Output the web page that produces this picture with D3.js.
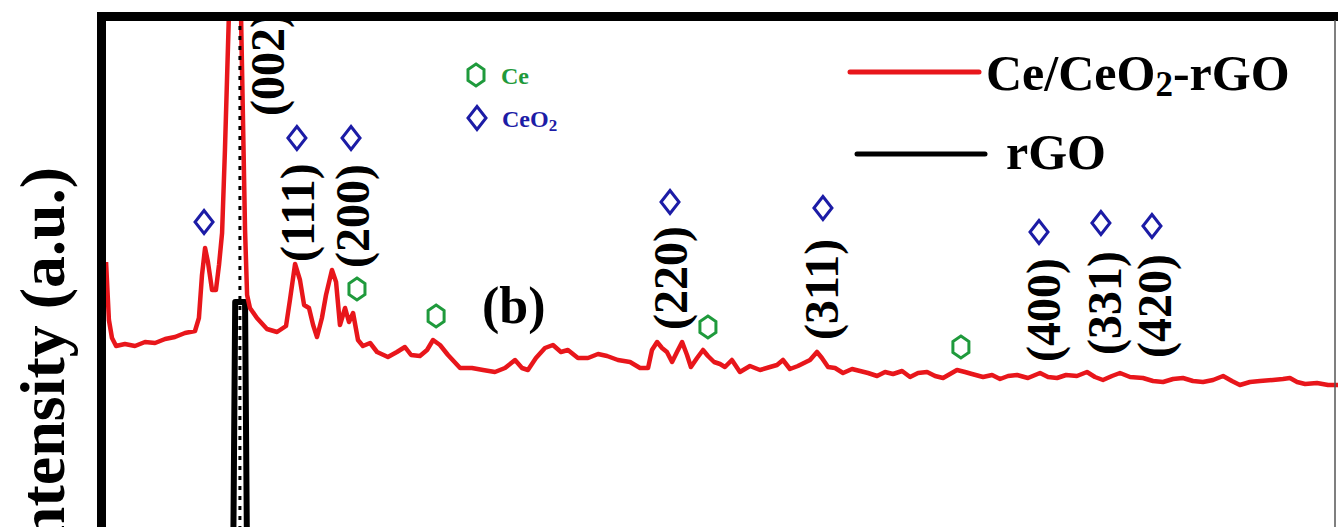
<!DOCTYPE html>
<html>
<head>
<meta charset="utf-8">
<script src="https://cdn.jsdelivr.net/npm/d3@7"></script>
<style>
  body { margin: 0; background: #fff; overflow: hidden; }
  text { font-family: "Liberation Serif", "Times New Roman", serif; font-weight: bold; }
</style>
</head>
<body>
<div class="chart"></div>
<script>
// Ce/CeO2-rGO pattern (2theta in degrees, intensity in a.u.)
var twoTheta = [20.10, 20.24, 20.39, 20.59, 21.02, 21.51, 22.00, 22.49, 22.98, 23.46, 23.95, 24.44,
  24.63, 24.78, 24.93, 25.07, 25.27, 25.46, 25.61, 25.76, 25.90, 26.00, 26.10, 26.39, 26.68, 26.78,
  26.88, 26.98, 27.12, 27.46, 27.95, 28.44, 28.88, 29.07, 29.32, 29.56, 29.76, 30.00, 30.20, 30.39,
  30.63, 30.83, 31.12, 31.32, 31.51, 31.76, 31.95, 32.15, 32.39, 32.63, 32.98, 33.32, 33.85, 34.29,
  34.68, 34.98, 35.41, 35.76, 36.05, 36.39, 36.78, 37.37, 37.95, 38.49, 39.07, 39.56, 40.05, 40.39,
  40.68, 41.07, 41.51, 41.90, 42.29, 42.63, 43.12, 43.61, 44.10, 44.54, 45.07, 45.66, 46.15, 46.54,
  46.73, 46.98, 47.22, 47.46, 47.71, 47.95, 48.20, 48.44, 48.63, 48.93, 49.22, 49.46, 49.76, 50.05,
  50.29, 50.63, 51.02, 51.51, 52.00, 52.49, 52.83, 53.12, 53.46, 53.85, 54.44, 54.78, 55.02, 55.32,
  55.66, 56.05, 56.49, 56.88, 57.27, 57.71, 58.10, 58.49, 58.93, 59.32, 59.71, 60.15, 60.54, 60.93,
  61.27, 61.61, 62.00, 62.34, 62.88, 63.32, 63.71, 64.10, 64.54, 65.07, 65.66, 66.05, 66.49, 66.93,
  67.46, 67.95, 68.34, 68.73, 69.17, 69.56, 70.05, 70.68, 71.17, 71.66, 72.15, 72.63, 73.12, 73.61,
  74.10, 74.59, 75.02, 75.41, 75.90, 76.39, 77.02, 77.51, 77.85, 78.20, 78.59, 79.17, 79.71, 80.20];
var compositeIntensity = [608, 492, 456, 440, 444, 440, 448, 446, 454, 458, 466, 470,
  496, 582, 636, 608, 552, 552, 602, 666, 832, 972, 1112, 1252, 1112, 892,
  672, 542, 516, 496, 474, 468, 480, 532, 604, 572, 522, 516, 482, 458,
  496, 542, 592, 568, 482, 516, 488, 506, 452, 440, 446, 428, 418, 428,
  438, 422, 420, 432, 452, 442, 422, 396, 396, 392, 388, 396, 412, 396,
  392, 416, 436, 442, 428, 432, 416, 416, 424, 420, 412, 408, 396, 396,
  432, 448, 436, 428, 408, 428, 448, 422, 398, 416, 432, 420, 408, 404,
  398, 412, 388, 400, 392, 398, 402, 412, 394, 400, 412, 428, 416, 398,
  396, 386, 394, 390, 386, 380, 388, 384, 390, 378, 386, 388, 380, 376,
  384, 392, 388, 384, 378, 382, 374, 380, 382, 376, 386, 378, 376, 382,
  380, 388, 378, 372, 380, 386, 378, 376, 370, 368, 374, 376, 370, 368,
  372, 380, 370, 362, 368, 370, 372, 374, 376, 368, 364, 366, 362, 362];

// rGO pattern
var rgoTwoTheta = [20, 26.30, 26.40, 26.88, 26.98, 80];
var rgoIntensity = [0, 0, 528, 528, 0, 0];

// phase markers
var ceo2TwoTheta = [24.88, 29.41, 32.05, 47.61, 55.07, 65.61, 68.63, 71.12];
var ceo2Height = [688, 856, 856, 728, 716, 668, 686, 680];
var ceTwoTheta = [32.34, 36.20, 49.46, 61.80];
var ceHeight = [554, 500, 478, 438];

// (hkl) labels
var hklText = ["(002)", "(111)", "(200)", "(220)", "(311)", "(400)", "(331)", "(420)"];
var hklTwoTheta = [28.00, 29.46, 32.15, 47.66, 55.02, 65.85, 68.83, 71.27];
var hklHeight = [900, 608, 596, 472, 452, 408, 422, 416];

var graphitePeak = 26.63;

var svgWidth = 1338;
var svgHeight = 527;

var svg = d3.select(".chart")
  .append("svg")
    .attr("width", svgWidth)
    .attr("height", svgHeight);

var xScale = d3.scaleLinear().domain([20, 80]).range([104, 1334]);
var yScale = d3.scaleLinear().domain([0, 1100]).range([566, 16]);

svg.append("clipPath")
    .attr("id", "plot-clip")
  .append("rect")
    .attr("x", 104)
    .attr("y", 21)
    .attr("width", svgWidth - 104)
    .attr("height", svgHeight);

var plot = svg.append("g").attr("clip-path", "url(#plot-clip)");

var line = d3.line()
  .x(function(d) { return xScale(d[0]); })
  .y(function(d) { return yScale(d[1]); });

var rgo = d3.zip(rgoTwoTheta, rgoIntensity);
var composite = d3.zip(twoTheta, compositeIntensity);

plot.append("path")
  .datum(rgo)
  .attr("d", line)
  .attr("fill", "none")
  .attr("stroke", "#000")
  .attr("stroke-width", 6)
  .attr("stroke-linejoin", "round");

plot.append("path")
  .datum(composite)
  .attr("d", line)
  .attr("fill", "none")
  .attr("stroke", "#e8161b")
  .attr("stroke-width", 4.5)
  .attr("stroke-linejoin", "round");

// dotted guide for the (002) reflection
plot.append("line")
  .attr("x1", xScale(graphitePeak))
  .attr("x2", xScale(graphitePeak))
  .attr("y1", yScale(1100))
  .attr("y2", yScale(0))
  .attr("stroke", "#000")
  .attr("stroke-width", 3)
  .attr("stroke-dasharray", "4,6");

function diamond(w, h) {
  return "M0," + (-h) + "L" + w + ",0L0," + h + "L" + (-w) + ",0Z";
}
function hexagon(w, h) {
  return "M0," + (-h) + "L" + w + "," + (-h / 2) + "L" + w + "," + (h / 2) +
    "L0," + h + "L" + (-w) + "," + (h / 2) + "L" + (-w) + "," + (-h / 2) + "Z";
}

plot.selectAll(".ceo2")
  .data(d3.zip(ceo2TwoTheta, ceo2Height))
  .enter().append("path")
    .attr("class", "ceo2")
    .attr("transform", function(d) { return "translate(" + xScale(d[0]) + "," + yScale(d[1]) + ")"; })
    .attr("d", diamond(9, 11.5))
    .attr("fill", "none")
    .attr("stroke", "#1c1ca6")
    .attr("stroke-width", 3);

plot.selectAll(".ce")
  .data(d3.zip(ceTwoTheta, ceHeight))
  .enter().append("path")
    .attr("class", "ce")
    .attr("transform", function(d) { return "translate(" + xScale(d[0]) + "," + yScale(d[1]) + ")"; })
    .attr("d", hexagon(8, 11))
    .attr("fill", "none")
    .attr("stroke", "#1f9a3c")
    .attr("stroke-width", 3);

plot.selectAll(".hkl")
  .data(d3.zip(hklText, hklTwoTheta, hklHeight))
  .enter().append("text")
    .attr("class", "hkl")
    .attr("transform", function(d) { return "translate(" + xScale(d[1]) + "," + yScale(d[2]) + ") rotate(-90)"; })
    .attr("dy", "0.33em")
    .attr("font-size", 48)
    .attr("fill", "#000")
    .text(function(d) { return d[0]; });

svg.append("text")
  .attr("x", 482)
  .attr("y", 323)
  .attr("font-size", 52)
  .text("(b)");

// frame: thick top and left, thin right
svg.append("line")
  .attr("x1", 97).attr("x2", svgWidth)
  .attr("y1", 16.5).attr("y2", 16.5)
  .attr("stroke", "#000").attr("stroke-width", 9);
svg.append("line")
  .attr("x1", 101.5).attr("x2", 101.5)
  .attr("y1", 12).attr("y2", svgHeight)
  .attr("stroke", "#000").attr("stroke-width", 9);
svg.append("line")
  .attr("x1", 1335).attr("x2", 1335)
  .attr("y1", 20).attr("y2", svgHeight)
  .attr("stroke", "#555").attr("stroke-width", 1.5);

// y-axis title (cut off by the crop, as in the source figure)
svg.append("text")
  .attr("transform", "translate(64,167) rotate(-90)")
  .attr("text-anchor", "end")
  .attr("font-size", 64)
  .text("Intensity (a.u.)");

// phase legend
var phaseLegend = svg.append("g");
phaseLegend.append("path")
  .attr("transform", "translate(476,75)")
  .attr("d", hexagon(8, 11))
  .attr("fill", "none").attr("stroke", "#1f9a3c").attr("stroke-width", 3);
phaseLegend.append("text")
  .attr("x", 501).attr("y", 84)
  .attr("font-size", 24).attr("fill", "#1f9a3c")
  .text("Ce");
phaseLegend.append("path")
  .attr("transform", "translate(477,118)")
  .attr("d", diamond(9, 11.5))
  .attr("fill", "none").attr("stroke", "#1c1ca6").attr("stroke-width", 3);
var ceo2Text = phaseLegend.append("text")
  .attr("x", 502).attr("y", 127)
  .attr("font-size", 24).attr("fill", "#1c1ca6");
ceo2Text.append("tspan").text("CeO");
ceo2Text.append("tspan").attr("font-size", 17).attr("dy", 4).text("2");

// series legend
var legend = svg.append("g");
legend.append("line")
  .attr("x1", 850).attr("x2", 979).attr("y1", 72).attr("y2", 72)
  .attr("stroke", "#e8161b").attr("stroke-width", 5).attr("stroke-linecap", "round");
var compText = legend.append("text")
  .attr("x", 986).attr("y", 90)
  .attr("font-size", 50);
compText.append("tspan").text("Ce/CeO");
compText.append("tspan").attr("font-size", 35).attr("dy", 6).text("2");
compText.append("tspan").attr("dy", -6).text("-rGO");
legend.append("line")
  .attr("x1", 857).attr("x2", 985).attr("y1", 154).attr("y2", 154)
  .attr("stroke", "#000").attr("stroke-width", 5).attr("stroke-linecap", "round");
legend.append("text")
  .attr("x", 1006).attr("y", 169)
  .attr("font-size", 50)
  .text("rGO");
</script>
</body>
</html>
